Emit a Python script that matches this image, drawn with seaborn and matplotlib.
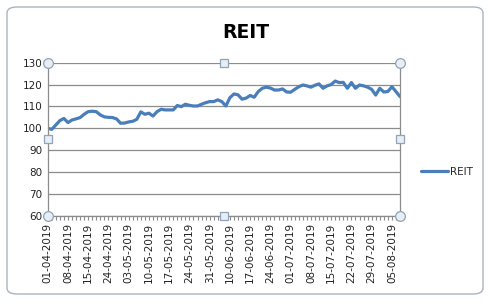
import matplotlib
matplotlib.use("Agg")
import matplotlib.pyplot as plt
from matplotlib.patches import FancyBboxPatch
import seaborn as sns
import pandas as pd
import numpy as np

# ---- data ----
start_date = "2019-04-01"
end_date = "2019-08-07"
holidays = ["2019-04-17", "2019-04-19", "2019-04-29", "2019-05-01", "2019-06-05"]
reit = [100.0, 99.5, 101.5, 103.5, 104.5, 102.6, 103.8, 104.3, 104.9, 106.4,
        107.6, 107.8, 107.6, 106.1, 105.2, 105.0, 104.9, 104.3, 102.3, 102.4,
        102.9, 103.2, 104.1, 107.5, 106.4, 106.9, 105.6, 107.6, 108.7, 108.4,
        108.4, 108.4, 110.4, 109.9, 111.0, 110.5, 110.2, 110.2, 111.0, 111.7,
        112.2, 112.2, 113.0, 112.2, 110.2, 114.0, 115.7, 115.3, 113.3, 113.8,
        115.0, 114.2, 116.8, 118.3, 118.8, 118.4, 117.5, 117.5, 118.0, 116.6,
        116.5, 117.8, 119.0, 119.8, 119.4, 118.8, 119.7, 120.3, 118.3, 119.4,
        120.0, 121.6, 120.9, 121.0, 118.3, 120.9, 118.3, 119.8, 119.4, 118.8,
        117.8, 115.2, 118.3, 116.6, 116.8, 119.0, 116.8, 114.5]
label_step = 5
y_ticks = [60, 70, 80, 90, 100, 110, 120, 130]

dates = pd.bdate_range(start_date, end_date)
dates = dates[~dates.isin(pd.to_datetime(holidays))]
labels = [d.strftime("%d-%m-%Y") for d in dates]
df = pd.DataFrame({"pos": np.arange(len(reit)), "REIT": reit})

# ---- figure ----
sns.set_theme(style="white")
plt.rcParams["font.family"] = ["DejaVu Sans"]
fig = plt.figure(figsize=(4.91, 3.03), dpi=100)
fig.patch.set_facecolor("white")

# chart frame
frame = FancyBboxPatch((7 / 491, 1 - 294 / 303), (483 - 7) / 491, (294 - 7) / 303,
                       boxstyle="round,pad=0,rounding_size=0.02",
                       transform=fig.transFigure, facecolor="white",
                       edgecolor="#A9B4BF", linewidth=1.0, zorder=-10)
fig.patches.append(frame)

ax = fig.add_axes([47.7 / 491, 1 - 215.7 / 303, (400 - 47.7) / 491, (215.7 - 62.7) / 303])
ax.set_facecolor("none")
ax.set_zorder(2)

sns.lineplot(data=df, x="pos", y="REIT", ax=ax, color="#4A7EBB", linewidth=2.3,
             label="REIT")

ax.set_xlim(0, len(reit) - 1)
ax.set_ylim(60, 130)
ax.set_yticks(y_ticks)
ax.set_yticklabels([str(v) for v in y_ticks], fontsize=7.5, color="#222222")
ax.yaxis.grid(True, color="#8C8C8C", linewidth=0.9)
ax.xaxis.grid(False)

ax.set_xticks(np.arange(0, len(reit), label_step))
ax.set_xticklabels(labels[::label_step], rotation=90, fontsize=7.5, color="#222222")
ax.set_xticks(np.arange(len(reit)), minor=True)
ax.tick_params(axis="x", which="both", direction="out", length=3, width=0.8,
               color="#8C8C8C", bottom=True, pad=2)
ax.tick_params(axis="y", length=0, pad=4)
ax.set_xlabel("")
ax.set_ylabel("")

for s in ["left", "bottom", "right"]:
    ax.spines[s].set_visible(True)
    ax.spines[s].set_color("#8C8C8C")
    ax.spines[s].set_linewidth(0.9)
ax.spines["top"].set_visible(False)

# selection handles
hx = [0, 1, 0, 1]
hy = [0, 0, 1, 1]
ax.plot(hx, hy, linestyle="none", marker="o", markersize=7, markerfacecolor="#E8EEF4",
        markeredgecolor="#8FA4BA", markeredgewidth=0.9, transform=ax.transAxes,
        clip_on=False, zorder=5)
sx = [0.5, 0.5, 0, 1]
sy = [0, 1, 0.5, 0.5]
ax.plot(sx, sy, linestyle="none", marker="s", markersize=6, markerfacecolor="#E8EEF4",
        markeredgecolor="#8FA4BA", markeredgewidth=0.9, transform=ax.transAxes,
        clip_on=False, zorder=5)

leg = ax.legend(loc="center left", bbox_to_anchor=(417 / 491, 1 - 172 / 303),
                bbox_transform=fig.transFigure, frameon=False, fontsize=7.5,
                handlelength=2.6, handletextpad=0.2, borderaxespad=0)

fig.text(246 / 491, 1 - 32 / 303, "REIT", ha="center", va="center",
         fontsize=13.5, fontweight="bold", color="black")

fig.savefig("out.png", dpi=100, facecolor="white")
